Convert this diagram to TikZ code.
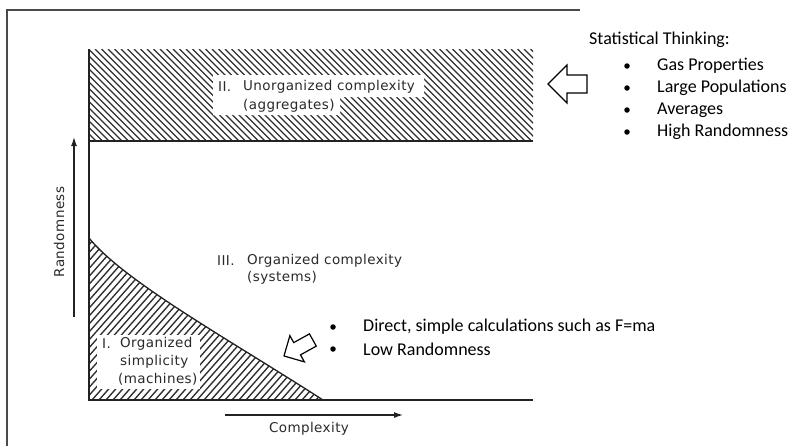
\documentclass[tikz,border=0pt]{standalone}
\usepackage{fontspec}
\setmainfont{Carlito}
\newfontfamily\plotfont[LetterSpace=3]{DejaVu Sans}
\usetikzlibrary{arrows.meta}
\definecolor{ink}{HTML}{222222}
\definecolor{hatchgray}{HTML}{2E2E2E}
\definecolor{framegray}{HTML}{4A4A4A}
\definecolor{plotgray}{HTML}{2A2A2A}
\begin{document}
\begin{tikzpicture}[x=1pt,y=-1pt,
  hatch/.style={hatchgray, line width=1.35pt},
  plotline/.style={ink, line width=1.3pt},
  plotlabel/.style={font=\plotfont\fontsize{13.5}{15}\selectfont, text=plotgray, inner sep=0pt, anchor=west},
  notetext/.style={font=\fontsize{18}{22}\selectfont, text=black, inner sep=0pt, anchor=west},
  bulletmark/.style={circle, fill=black, inner sep=0pt, minimum size=5.5pt},
  hollowarrow/.style={draw=black, fill=white, line width=1.2pt, line join=miter},
  axisarrow/.style={ink, line width=1.2pt, -{Latex[length=9pt,width=6pt]}}
]
\useasboundingbox (0,0) rectangle (791,445);
% page frame
\draw[framegray, line width=1.8pt] (580,10) -- (7,10) -- (7,446);

% hatching of region II
\begin{scope}
  \clip (89,49) rectangle (533,141);
  \foreach \x in {-100,-93.5,...,535} \draw[hatch] (\x,49) -- ++(92,92);
\end{scope}
% hatching of region I
\begin{scope}
  \clip (89,238) .. controls (125,282) and (230,340) .. (323,400) -- (89,400) -- cycle;
  \foreach \x in {-90,-83,...,330} \draw[hatch] (\x,400) -- ++(150,-170);
\end{scope}
% clear ground behind the region labels
\fill[white] (213,75) -- (424,75) -- (424,97) -- (340,97) -- (340,115) -- (213,115) -- cycle;
\fill[white] (97,335) rectangle (200,389);

% region boundaries
\draw[plotline] (89,49) -- (89,400) -- (533,400);
\draw[plotline] (89,141) -- (533,141);
\draw[plotline] (89,238) .. controls (125,282) and (230,340) .. (323,400);

% axis arrows
\coordinate (randfrom) at (74,317);
\coordinate (randto) at (74,137);
\coordinate (compfrom) at (225,415);
\coordinate (compto) at (403,415);
\draw[axisarrow] (randfrom) -- (randto);
\draw[axisarrow] (compfrom) -- (compto);
\node[plotlabel, anchor=center, rotate=90] (randlabel) at (59,232) {Randomness};
\node[plotlabel, anchor=center] (complabel) at (309,429) {Complexity};

% region labels
\node[plotlabel] (numII) at (218,87) {II.};
\node[plotlabel] (regionII) at (243,87) {Unorganized complexity};
\node[plotlabel] (regionIIb) at (243,106) {(aggregates)};
\node[plotlabel] (numIII) at (217,261) {III.};
\node[plotlabel] (regionIII) at (247,261) {Organized complexity};
\node[plotlabel] (regionIIIb) at (247,278) {(systems)};
\node[plotlabel] (numI) at (102,344) {I.};
\node[plotlabel] (regionI) at (120,344) {Organized};
\node[plotlabel] (regionIb) at (120,362) {simplicity};
\node[plotlabel] (regionIc) at (118,379) {(machines)};

% hollow pointers
\draw[hollowarrow] (548,84) -- (567,65) -- (567,75) -- (587,75) -- (587,93) -- (567,93) -- (567,103) -- cycle;
\begin{scope}[shift={(284,356)}, rotate=29]
  \draw[hollowarrow] (0,0) -- (15,-15) -- (15,-7) -- (33,-7) -- (33,7) -- (15,7) -- (15,15) -- cycle;
\end{scope}

% notes
\node[notetext] (stat) at (589,40) {Statistical Thinking:};
\foreach \t/\yy [count=\k] in {Gas Properties/66, Large Populations/88, Averages/110, High Randomness/132}{
  \node[bulletmark] (sb\k) at (627,\yy) {};
  \node[notetext] (st\k) at (657,\yy) {\t};
}
\node[bulletmark] (db1) at (333,327) {};
\node[notetext] (dt1) at (363,327) {Direct, simple calculations such as F=ma};
\node[bulletmark] (db2) at (333,349) {};
\node[notetext] (dt2) at (363,349) {Low Randomness};
\end{tikzpicture}
\end{document}
